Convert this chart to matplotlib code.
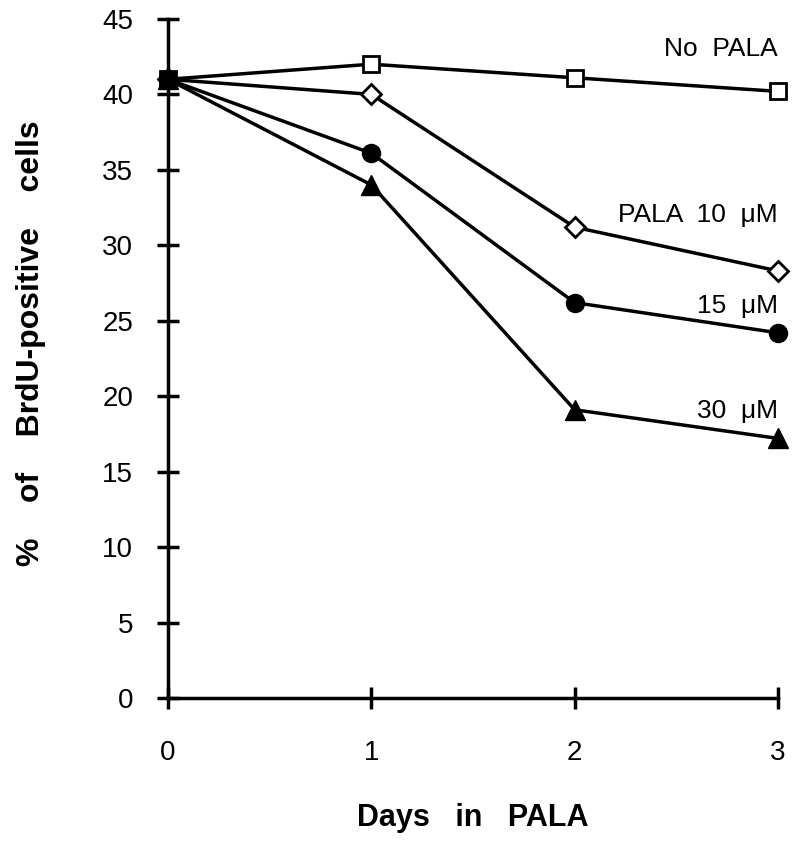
import matplotlib
matplotlib.use("Agg")
import matplotlib.pyplot as plt

days = [0, 1, 2, 3]
no_pala = [41.0, 42.0, 41.1, 40.2]
pala_10 = [41.0, 40.0, 31.2, 28.3]
pala_15 = [41.0, 36.1, 26.2, 24.2]
pala_30 = [41.0, 34.0, 19.1, 17.2]
x_ticks = [0, 1, 2, 3]
y_ticks = [0, 5, 10, 15, 20, 25, 30, 35, 40, 45]

plt.rcParams['font.family'] = ['Liberation Sans', 'DejaVu Sans']

fig = plt.figure(figsize=(8, 8.49), dpi=100)
ax = fig.add_axes([0.21, 0.1779, 0.7625, 0.7998])

lw = 2.5
ax.plot(days, no_pala, color='black', lw=lw, marker='s', ms=12, mfc='white', mec='black', mew=2, clip_on=False, zorder=3)
ax.plot(days, pala_10, color='black', lw=lw, marker='D', ms=10, mfc='white', mec='black', mew=2, clip_on=False, zorder=3)
ax.plot(days, pala_15, color='black', lw=lw, marker='o', ms=13, mfc='black', mec='black', clip_on=False, zorder=3)
ax.plot(days, pala_30, color='black', lw=lw, marker='^', ms=15, mfc='black', mec='black', clip_on=False, zorder=3)

ax.set_xlim(0, 3)
ax.set_ylim(0, 45)
ax.set_xticks(x_ticks)
ax.set_yticks(y_ticks)
ax.set_xticklabels([str(v) for v in x_ticks])
ax.set_yticklabels([str(v) for v in y_ticks])
for s in ['top', 'right']:
    ax.spines[s].set_visible(False)
for s in ['left', 'bottom']:
    ax.spines[s].set_linewidth(2.5)
ax.tick_params(axis='y', direction='inout', length=16, width=2.5, labelsize=20, pad=17)
ax.tick_params(axis='x', direction='inout', length=16, width=2.5, labelsize=20, pad=22)

ax.set_ylabel('%    of    BrdU-positive    cells', fontsize=23, fontweight='bold')
ax.yaxis.set_label_coords(-0.2, 0.523)
ax.set_xlabel('Days   in   PALA', fontsize=22, fontweight='bold')
ax.xaxis.set_label_coords(0.5, -0.155)

ax.text(3, 43.0, 'No  PALA', ha='right', va='center', fontsize=19)
ax.text(3, 32.0, 'PALA  10  \u03bcM', ha='right', va='center', fontsize=19)
ax.text(3, 26.0, '15  \u03bcM', ha='right', va='center', fontsize=19)
ax.text(3, 19.0, '30  \u03bcM', ha='right', va='center', fontsize=19)

fig.savefig('out.png', dpi=100)
